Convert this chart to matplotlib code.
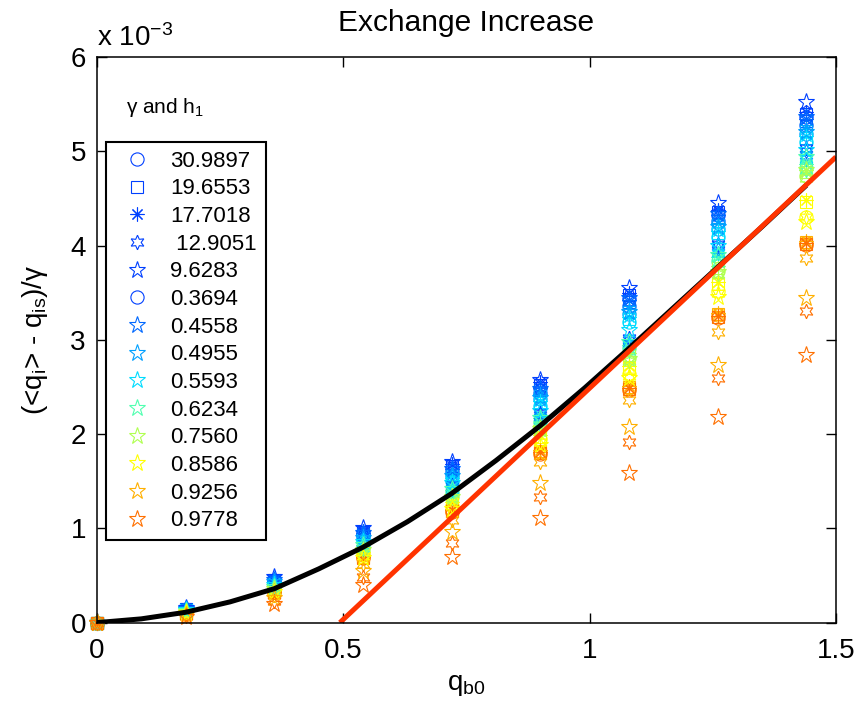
import matplotlib
matplotlib.use("Agg")
import matplotlib.pyplot as plt
from matplotlib.lines import Line2D
import numpy as np

plt.rcParams['font.family'] = ['Liberation Sans', 'DejaVu Sans']
plt.rcParams['mathtext.fontset'] = 'custom'
plt.rcParams['mathtext.rm'] = 'Liberation Sans'
plt.rcParams['mathtext.it'] = 'Liberation Sans'
plt.rcParams['mathtext.default'] = 'regular'

# q_b0 positions of the measured columns
x_pos = [0, 0.18, 0.36, 0.54, 0.72, 0.90, 1.08, 1.26, 1.44]

# h1 values (colour) and gamma values (marker)
h1_vals = ['0.3694', '0.4558', '0.4955', '0.5593', '0.6234', '0.7560', '0.8586', '0.9256', '0.9778']
gamma_vals = ['30.9897', '19.6553', '17.7018', ' 12.9051', '9.6283']
h1_colors = ['#0040ff', '#0068ff', '#00a0ff', '#00dcff', '#50ffb0', '#b0ff50', '#ffff00', '#ffb000', '#ff7000']

# values in units of 1e-3, rows = x_pos, columns = h1 colours
circ = [
    [0, 0, 0, 0, 0, 0, 0, 0, 0],
    [.14, .13, .13, .12, .12, .11, .11, .10, .10],
    [.44, .43, .42, .40, .38, .36, .34, .33, .32],
    [.95, .93, .90, .87, .80, .77, .73, .70, .69],
    [1.64, 1.60, 1.55, 1.50, 1.39, 1.33, 1.24, 1.18, 1.17],
    [2.49, 2.44, 2.37, 2.30, 2.13, 2.05, 1.95, 1.81, 1.79],
    [3.43, 3.36, 3.27, 3.19, 2.91, 2.81, 2.64, 2.49, 2.47],
    [4.32, 4.26, 4.18, 4.09, 3.84, 3.73, 3.52, 3.26, 3.23],
    [5.36, 5.28, 5.18, 5.10, 4.82, 4.74, 4.30, 4.03, 4.01],
]
sqr = [
    [0, 0, 0, 0, 0, 0, 0, 0, 0],
    [.14, .14, .13, .13, .12, .12, .11, .10, .10],
    [.45, .44, .43, .41, .38, .37, .35, .33, .33],
    [.96, .94, .91, .88, .81, .78, .74, .70, .69],
    [1.66, 1.62, 1.57, 1.52, 1.40, 1.35, 1.27, 1.19, 1.18],
    [2.52, 2.47, 2.40, 2.33, 2.15, 2.08, 1.97, 1.82, 1.80],
    [3.47, 3.40, 3.30, 3.22, 2.93, 2.84, 2.70, 2.50, 2.48],
    [4.36, 4.30, 4.22, 4.13, 3.86, 3.76, 3.59, 3.27, 3.24],
    [5.40, 5.32, 5.22, 5.14, 4.84, 4.78, 4.46, 4.04, 4.02],
]
astr = [
    [0, 0, 0, 0, 0, 0, 0, 0, 0],
    [.15, .14, .14, .13, .12, .12, .11, .10, .10],
    [.46, .45, .43, .42, .39, .37, .35, .34, .33],
    [.97, .95, .92, .89, .82, .79, .75, .71, .70],
    [1.68, 1.63, 1.58, 1.53, 1.41, 1.36, 1.28, 1.20, 1.19],
    [2.55, 2.49, 2.42, 2.35, 2.17, 2.10, 1.99, 1.83, 1.81],
    [3.50, 3.42, 3.33, 3.24, 2.95, 2.86, 2.72, 2.51, 2.49],
    [4.38, 4.32, 4.24, 4.15, 3.88, 3.78, 3.61, 3.28, 3.25],
    [5.42, 5.34, 5.24, 5.16, 4.86, 4.80, 4.48, 4.05, 4.03],
]
hexa = [
    [0, 0, 0, 0, 0, 0, 0, 0, 0],
    [.13, .13, .12, .12, .12, .11, .11, .09, .07],
    [.40, .40, .39, .39, .37, .36, .34, .29, .23],
    [.85, .84, .83, .82, .79, .76, .71, .62, .48],
    [1.46, 1.45, 1.43, 1.41, 1.37, 1.32, 1.24, 1.09, 0.84],
    [2.22, 2.20, 2.18, 2.15, 2.10, 2.02, 1.92, 1.70, 1.33],
    [3.02, 3.00, 2.97, 2.94, 2.88, 2.78, 2.62, 2.36, 1.92],
    [4.02, 3.99, 3.96, 3.92, 3.82, 3.70, 3.50, 3.08, 2.60],
    [5.03, 5.00, 4.96, 4.92, 4.80, 4.72, 4.30, 3.87, 3.31],
]
pent = [
    [0, 0, 0, 0, 0, 0, 0, 0, 0],
    [.15, .14, .13, .13, .12, .11, .10, .08, .06],
    [.48, .45, .43, .40, .38, .36, .33, .26, .20],
    [1.00, .95, .90, .86, .82, .77, .69, .55, .40],
    [1.70, 1.63, 1.56, 1.48, 1.42, 1.33, 1.20, .96, .70],
    [2.57, 2.48, 2.38, 2.25, 2.17, 2.05, 1.88, 1.48, 1.11],
    [3.55, 3.44, 3.30, 3.10, 2.98, 2.80, 2.60, 2.08, 1.59],
    [4.45, 4.33, 4.20, 4.00, 3.90, 3.72, 3.45, 2.73, 2.18],
    [5.52, 5.36, 5.20, 5.01, 4.94, 4.80, 4.25, 3.44, 2.84],
]

# model curve (black) and asymptote (red), units of 1e-3
curve_x = [0, 0.09, 0.18, 0.27, 0.36, 0.45, 0.54, 0.63, 0.72, 0.81, 0.90, 0.99, 1.08, 1.17, 1.26, 1.35, 1.44]
curve_y = [0, 0.04, 0.11, 0.22, 0.36, 0.57, 0.80, 1.07, 1.37, 1.72, 2.09, 2.49, 2.91, 3.34, 3.77, 4.20, 4.64]
line_x = [0.493, 1.5]
line_y = [0, 4.94]

markers = ['o', 's', (8, 2, 0), (6, 1, 0), '*']
msizes = [9.5, 8.5, 10, 10.5, 12.5]
tables = [circ, sqr, astr, hexa, pent]

fig = plt.figure(figsize=(8.63, 7.15), dpi=100)
ax = fig.add_axes([0.1124, 0.1292, 0.8563, 0.7911])

for tab, mk, ms in zip(tables, markers, msizes):
    arr = np.array(tab)
    for c in range(len(h1_colors)):
        ax.plot(x_pos, arr[:, c], linestyle='none', marker=mk, ms=ms,
                mfc='none', mec=h1_colors[c], mew=0.8, clip_on=False)

ax.plot(curve_x, curve_y, color='black', lw=3.6, solid_capstyle='butt', solid_joinstyle='round')
ax.plot(line_x, line_y, color='#ff3300', lw=3.6, solid_capstyle='butt')

ax.set_xlim(0, 1.5)
ax.set_ylim(0, 6)
ax.set_xticks([0, 0.5, 1, 1.5])
ax.set_xticklabels(['0', '0.5', '1', '1.5'])
ax.set_yticks([0, 1, 2, 3, 4, 5, 6])
ax.tick_params(direction='in', length=7, width=1, labelsize=20, top=True, right=True, pad=8)
ax.tick_params(axis='x', pad=11)
for sp in ax.spines.values():
    sp.set_linewidth(1.1)

ax.set_title('Exchange Increase', fontsize=21.5, pad=19)
ax.set_xlabel('q$_{b0}$', fontsize=20, labelpad=6)
ax.set_ylabel('(<q$_i$> - q$_{is}$)/γ', fontsize=20, labelpad=15)
ax.text(0, 1.008, 'x 10$^{-3}$', transform=ax.transAxes, fontsize=20, ha='left', va='bottom')

# legend: gamma entries then h1 entries
handles = []
labels = []
for mk, ms, g in zip(markers, msizes, gamma_vals):
    handles.append(Line2D([], [], linestyle='none', marker=mk, ms=ms, mfc='none', mec=h1_colors[0], mew=0.8))
    labels.append(g)
handles.append(Line2D([], [], linestyle='none', marker='o', ms=msizes[0], mfc='none', mec=h1_colors[0], mew=0.8))
labels.append(h1_vals[0])
for c in range(1, len(h1_vals)):
    handles.append(Line2D([], [], linestyle='none', marker='*', ms=msizes[4], mfc='none', mec=h1_colors[c], mew=0.8))
    labels.append(h1_vals[c])

leg = ax.legend(handles, labels, loc='upper left', bbox_to_anchor=(0.012, 0.85), borderaxespad=0,
                fontsize=16, labelspacing=0.30, handlelength=2, handletextpad=0.5,
                borderpad=0.4, fancybox=False, framealpha=1, edgecolor='black')
leg.get_frame().set_linewidth(1.5)
ax.text(0.092, 0.91, 'γ and h$_1$', transform=ax.transAxes, fontsize=15, ha='center', va='center')

fig.savefig('out.png', dpi=100)
